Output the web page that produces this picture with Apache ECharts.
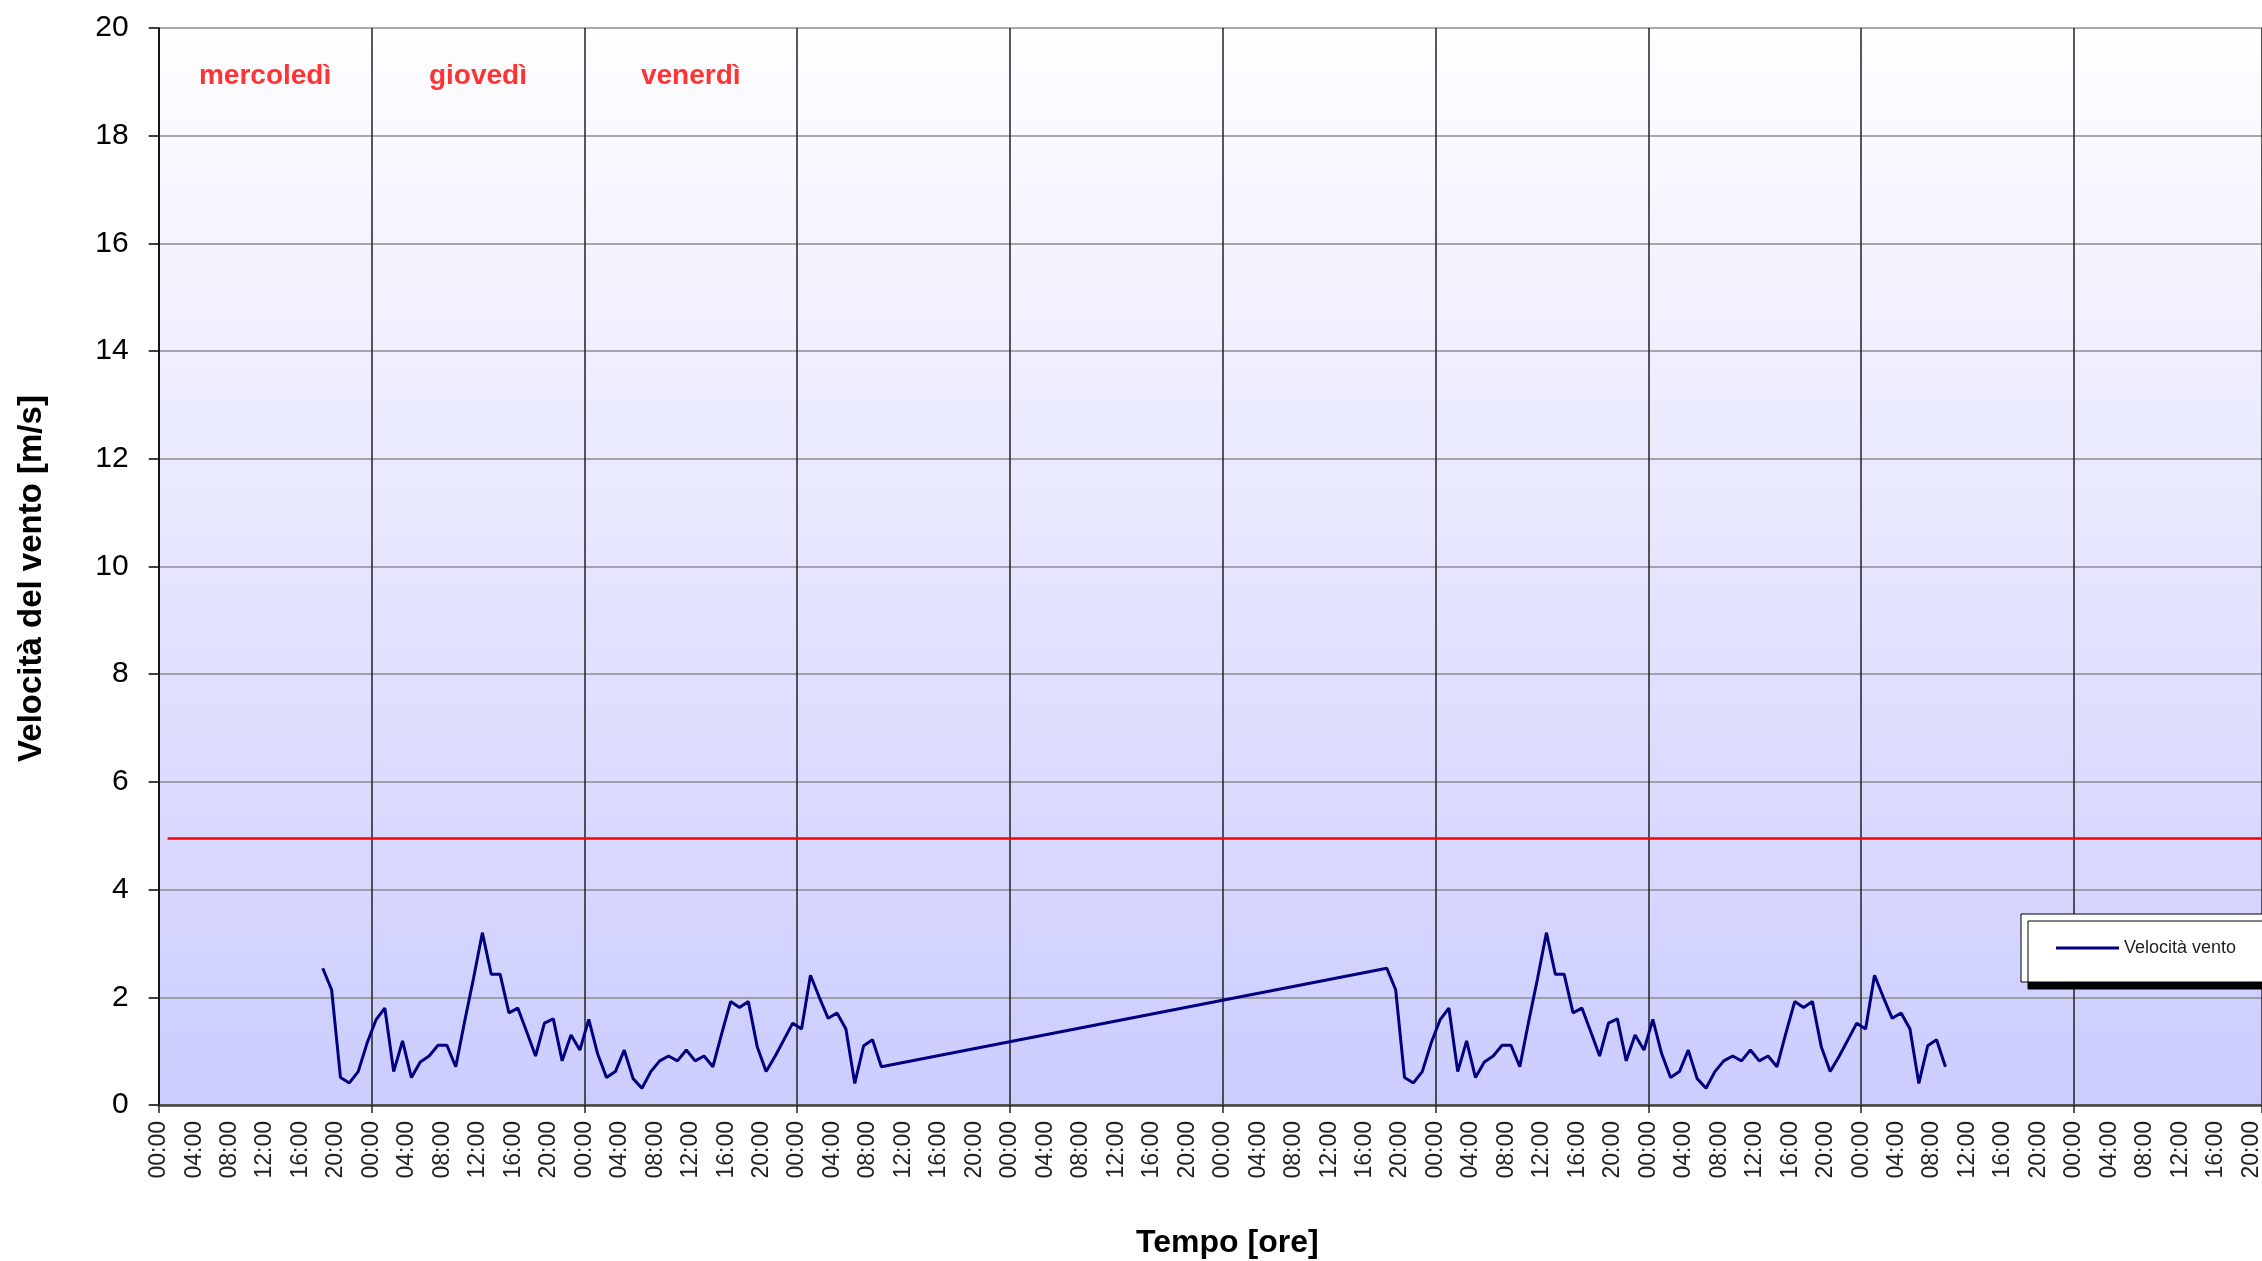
<!DOCTYPE html>
<html>
<head>
<meta charset="utf-8">
<script src="https://cdn.jsdelivr.net/npm/echarts@6/dist/echarts.min.js"></script>
<style>
    html, body { margin: 0; padding: 0; background: #fff; }
    #main { width: 2262px; height: 1261px; }
</style>
</head>
<body>
<div id="main"></div>
<script>
    // hourly samples (hh:30), hours counted from the first 00:00 on the axis
    var startA = 18.5;
    var windA = [2.54, 2.14, 0.51, 0.41, 0.62, 1.15, 1.58, 1.80, 0.62, 1.19, 0.51, 0.80, 0.91, 1.11, 1.11, 0.71,
        1.55, 2.35, 3.20, 2.43, 2.43, 1.71, 1.80, 1.36, 0.91, 1.52, 1.60, 0.82, 1.30, 1.02, 1.59, 0.95,
        0.51, 0.62, 1.02, 0.49, 0.31, 0.62, 0.82, 0.91, 0.82, 1.02, 0.82, 0.91, 0.71, 1.33, 1.92, 1.81,
        1.92, 1.08, 0.62, 0.90, 1.21, 1.52, 1.41, 2.41, 2.00, 1.61, 1.71, 1.41, 0.40, 1.10, 1.21, 0.71];
    var startB = 138.5;
    var windB = [2.54, 2.14, 0.51, 0.41, 0.62, 1.15, 1.58, 1.80, 0.62, 1.19, 0.51, 0.80, 0.91, 1.11, 1.11, 0.71,
        1.55, 2.35, 3.20, 2.43, 2.43, 1.71, 1.80, 1.36, 0.91, 1.52, 1.60, 0.82, 1.30, 1.02, 1.59, 0.95,
        0.51, 0.62, 1.02, 0.49, 0.31, 0.62, 0.82, 0.91, 0.82, 1.02, 0.82, 0.91, 0.71, 1.33, 1.92, 1.81,
        1.92, 1.08, 0.62, 0.90, 1.21, 1.52, 1.41, 2.41, 2.00, 1.61, 1.71, 1.41, 0.40, 1.10, 1.21, 0.71];
    var threshold = 4.95;
    var axisMaxHour = 237.2;   // the picture is cut just before the 00:00 of day 10
    var thresholdSpan = [1, axisMaxHour];
    var dayNames = ['mercoledì', 'giovedì', 'venerdì'];
    var dayLabelHours = [12, 36, 60];

    var windData = [];
    windA.forEach(function (v, i) { windData.push([startA + i, v]); });
    windB.forEach(function (v, i) { windData.push([startB + i, v]); });

    var font = 'Liberation Sans, Arial, sans-serif';
    var myChart = echarts.init(document.getElementById('main'));
    var option = {
        animation: false,
        grid: {
            left: 158.7, right: 0, top: 28, bottom: 156,
            outerBoundsMode: 'none',
            show: true, borderWidth: 0,
            backgroundColor: new echarts.graphic.LinearGradient(0, 0, 0, 1, [
                {offset: 0, color: '#fefeff'},
                {offset: 1, color: '#ccccff'}
            ])
        },
        legend: {
            data: ['Velocità vento'],
            icon: 'rect',
            left: 2021, top: 914,
            backgroundColor: '#fff',
            borderColor: '#000', borderWidth: 1,
            padding: [24, 80, 24, 35],
            itemWidth: 63, itemHeight: 3,
            shadowColor: '#000', shadowBlur: 0, shadowOffsetX: 7, shadowOffsetY: 7,
            textStyle: {fontFamily: font, fontSize: 18, color: '#222', lineHeight: 20}
        },
        xAxis: [
            {
                type: 'value', min: 0, max: axisMaxHour, interval: 4, position: 'bottom',
                name: 'Tempo [ore]', nameLocation: 'middle', nameGap: 122,
                nameTextStyle: {fontFamily: font, fontWeight: 'bold', fontSize: 32, color: '#000', padding: [0, 0, 0, 34]},
                axisLine: {lineStyle: {color: '#444', width: 2.5}},
                axisTick: {show: false},
                splitLine: {show: false},
                axisLabel: {
                    rotate: 90, fontSize: 23, margin: 16, color: '#222', fontFamily: font,
                    showMaxLabel: false,
                    formatter: function (v) {
                        if (v % 4 !== 0) return '';
                        var h = v % 24;
                        return (h < 10 ? '0' : '') + h + ':00';
                    }
                }
            },
            {
                type: 'value', min: 0, max: axisMaxHour, interval: 24, position: 'bottom',
                axisLine: {show: false},
                axisTick: {show: true, length: 8, lineStyle: {color: '#222', width: 1.5}},
                axisLabel: {show: false},
                splitLine: {show: true, lineStyle: {color: '#222', width: 1.5}}
            }
        ],
        yAxis: {
            type: 'value', min: 0, max: 20, interval: 2,
            name: 'Velocità del vento [m/s]', nameLocation: 'middle', nameGap: 110,
            nameTextStyle: {fontFamily: font, fontWeight: 'bold', fontSize: 33, color: '#000', padding: [0, 24, 0, 0]},
            axisLine: {show: true, lineStyle: {color: '#000', width: 1.5}},
            axisTick: {show: true, length: 10, lineStyle: {color: '#000', width: 1.5}},
            axisLabel: {fontSize: 30, margin: 30, color: '#000', fontFamily: font},
            splitLine: {lineStyle: {color: '#8c8c8c', width: 1.5}}
        },
        series: [
            {
                name: 'Velocità vento', type: 'line', xAxisIndex: 0,
                data: windData, symbol: 'none', z: 4,
                itemStyle: {color: '#000080'},
                lineStyle: {color: '#000080', width: 3}
            },
            {
                name: 'soglia', type: 'line', xAxisIndex: 0, silent: true,
                data: thresholdSpan.map(function (x) { return [x, threshold]; }),
                symbol: 'none', z: 3,
                lineStyle: {color: '#ff0000', width: 2.5}
            },
            {
                name: 'giorni', type: 'scatter', xAxisIndex: 0, silent: true,
                symbolSize: 1, itemStyle: {color: 'rgba(0,0,0,0)'},
                data: dayNames.map(function (d, i) { return {name: d, value: [dayLabelHours[i], 19.1]}; }),
                label: {
                    show: true, position: 'inside', formatter: '{b}',
                    color: '#ff0000', fontWeight: 'bold', fontSize: 28, fontFamily: font
                }
            }
        ]
    };
    myChart.setOption(option);
</script>
</body>
</html>
